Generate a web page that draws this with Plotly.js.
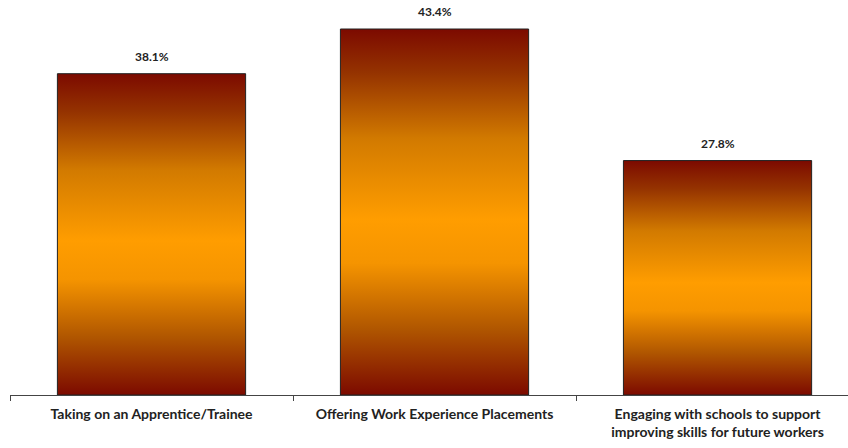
<!DOCTYPE html>
<html>
<head>
<meta charset="utf-8">
<script src="https://cdn.plot.ly/plotly-3.0.1.min.js"></script>
<style>html,body{margin:0;padding:0;background:#fff;}#chart{width:848px;height:448px;}</style>
</head>
<body>
<div id="chart"></div>
<script>
var categories = ["Taking on an Apprentice/Trainee", "Offering Work Experience Placements", "Engaging with schools to support<br>improving skills for future workers"];
var values = [38.1, 43.4, 27.8];
var valueLabels = ["38.1%", "43.4%", "27.8%"];

var FONT = "Lato, 'Open Sans', sans-serif";

var trace = {
  type: "bar",
  x: categories,
  y: values,
  marker: {color: "#ff9900", line: {color: "#222", width: 1}},
  hoverinfo: "none"
};

var annotations = categories.map(function (c, i) {
  return {
    x: c, y: values[i], xref: "x", yref: "y",
    text: valueLabels[i], showarrow: false,
    yanchor: "bottom", yshift: 8,
    font: {family: FONT, size: 12, color: "#222", weight: "bold"}
  };
});

var layout = {
  width: 848, height: 448,
  margin: {l: 10, r: 0, t: 0, b: 53},
  paper_bgcolor: "#fff", plot_bgcolor: "#fff",
  bargap: 0.335,
  showlegend: false,
  font: {family: FONT, color: "#222"},
  annotations: annotations,
  xaxis: {
    type: "category",
    range: [-0.5, 2.461],
    showline: true, linecolor: "#444", linewidth: 1,
    ticks: "outside", tickson: "boundaries", ticklen: 5, tickcolor: "#444", tickwidth: 1,
    ticklabelstandoff: 6,
    tickfont: {size: 14, color: "#222", weight: "bold", family: FONT},
    showgrid: false, zeroline: false, automargin: false
  },
  yaxis: {
    range: [0, 46.84],
    visible: false, showgrid: false, zeroline: false, fixedrange: true
  }
};

function applyGradient(gd) {
  var svg = gd.querySelector("svg.main-svg");
  if (!svg) return;
  var ns = "http://www.w3.org/2000/svg";
  if (!svg.querySelector("#barGrad")) {
    var defs = svg.querySelector("defs") || svg.insertBefore(document.createElementNS(ns, "defs"), svg.firstChild);
    var lg = document.createElementNS(ns, "linearGradient");
    lg.setAttribute("id", "barGrad");
    lg.setAttribute("x1", "0"); lg.setAttribute("y1", "0");
    lg.setAttribute("x2", "0"); lg.setAttribute("y2", "1");
    var stops = [[0, "#7c0a00"], [0.12, "#953300"], [0.3, "#d27a00"], [0.52, "#ff9d00"], [0.64, "#f59400"], [0.82, "#b05600"], [1, "#7c0a00"]];
    stops.forEach(function (s) {
      var st = document.createElementNS(ns, "stop");
      st.setAttribute("offset", s[0]);
      st.setAttribute("stop-color", s[1]);
      lg.appendChild(st);
    });
    defs.appendChild(lg);
  }
  gd.querySelectorAll(".bars .point path").forEach(function (p) {
    p.style.fill = "url(#barGrad)";
  });
}

Plotly.newPlot("chart", [trace], layout, {staticPlot: true, displayModeBar: false}).then(applyGradient);
</script>
</body>
</html>
